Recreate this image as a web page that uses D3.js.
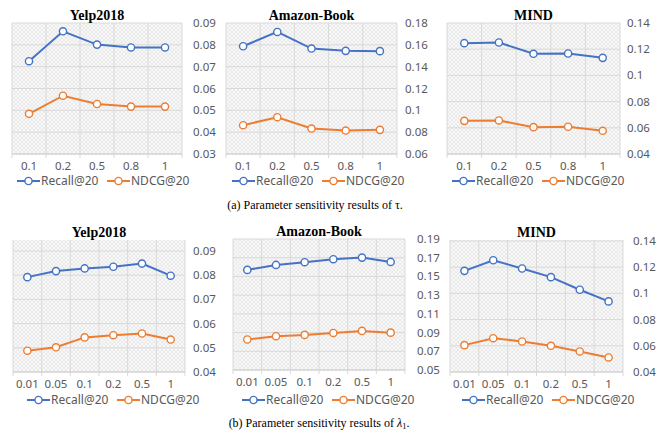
<!DOCTYPE html>
<html>
<head>
<meta charset="utf-8">
<script src="https://cdn.jsdelivr.net/npm/d3@7/dist/d3.min.js"></script>
<style>
  body { margin: 0; background: #fff; }
  svg { display: block; }
</style>
</head>
<body>
<svg id="chart" width="664" height="433"></svg>
<script>
// ---- data ----
const tauLabels = ['0.1', '0.2', '0.5', '0.8', '1']
const lambdaLabels = ['0.01', '0.05', '0.1', '0.2', '0.5', '1']

const yelpTauRecall = [0.0725, 0.0862, 0.0801, 0.0788, 0.0788]
const yelpTauNdcg = [0.0484, 0.0567, 0.0529, 0.0517, 0.0517]
const amazonTauRecall = [0.1587, 0.1718, 0.1566, 0.1545, 0.1542]
const amazonTauNdcg = [0.0864, 0.0937, 0.0833, 0.0815, 0.0821]
const mindTauRecall = [0.1246, 0.1251, 0.1165, 0.1167, 0.1134]
const mindTauNdcg = [0.0653, 0.0656, 0.0605, 0.0608, 0.0577]

const yelpLambdaRecall = [0.0792, 0.0817, 0.0828, 0.0835, 0.0848, 0.0798]
const yelpLambdaNdcg = [0.0488, 0.0502, 0.0543, 0.0552, 0.0559, 0.0534]
const amazonLambdaRecall = [0.1570, 0.1623, 0.1652, 0.1684, 0.1701, 0.1655]
const amazonLambdaNdcg = [0.0826, 0.0861, 0.0875, 0.0896, 0.0918, 0.0899]
const mindLambdaRecall = [0.1172, 0.1253, 0.1190, 0.1124, 0.1028, 0.0939]
const mindLambdaNdcg = [0.0605, 0.0658, 0.0633, 0.0600, 0.0557, 0.0511]

const yelpTauTicks = [0.03, 0.04, 0.05, 0.06, 0.07, 0.08, 0.09]
const amazonTauTicks = [0.06, 0.08, 0.1, 0.12, 0.14, 0.16, 0.18]
const mindTicks = [0.04, 0.06, 0.08, 0.1, 0.12, 0.14]
const yelpLambdaTicks = [0.04, 0.05, 0.06, 0.07, 0.08, 0.09]
const amazonLambdaTicks = [0.05, 0.07, 0.09, 0.11, 0.13, 0.15, 0.17, 0.19]

const seriesNames = ['Recall@20', 'NDCG@20']
const seriesColors = ['#4472C4', '#ED7D31']

// ---- layout ----
const panels = [
  { title: 'Yelp2018', cats: tauLabels, recall: yelpTauRecall, ndcg: yelpTauNdcg, ticks: yelpTauTicks,
    x0: 12, x1: 182, y0: 23, yTop: 23, y1: 154, axisX: 193, legX: 17, legY: 181 },
  { title: 'Amazon-Book', cats: tauLabels, recall: amazonTauRecall, ndcg: amazonTauNdcg, ticks: amazonTauTicks,
    x0: 226, x1: 397, y0: 23, yTop: 23, y1: 154, axisX: 405, legX: 232, legY: 181 },
  { title: 'MIND', cats: tauLabels, recall: mindTauRecall, ndcg: mindTauNdcg, ticks: mindTicks,
    x0: 447, x1: 620, y0: 23, yTop: 23, y1: 154, axisX: 627, legX: 452, legY: 181 },
  { title: 'Yelp2018', cats: lambdaLabels, recall: yelpLambdaRecall, ndcg: yelpLambdaNdcg, ticks: yelpLambdaTicks,
    x0: 13, x1: 185, y0: 240, yTop: 251, y1: 372, axisX: 193, legX: 27, legY: 400 },
  { title: 'Amazon-Book', cats: lambdaLabels, recall: amazonLambdaRecall, ndcg: amazonLambdaNdcg, ticks: amazonLambdaTicks,
    x0: 233, x1: 405, y0: 239, yTop: 239, y1: 370, axisX: 417, legX: 242, legY: 400 },
  { title: 'MIND', cats: lambdaLabels, recall: mindLambdaRecall, ndcg: mindLambdaNdcg, ticks: mindTicks,
    x0: 450, x1: 623, y0: 240, yTop: 241, y1: 372, axisX: 633, legX: 462, legY: 400 }
]

const svg = d3.select('#chart')
const sans = "'Noto Sans', 'DejaVu Sans', sans-serif"
const serif = "'Liberation Serif', 'Times New Roman', serif"

// crosshatch background
const defs = svg.append('defs')
const pat = defs.append('pattern')
  .attr('id', 'hatch')
  .attr('width', 4).attr('height', 4)
  .attr('patternUnits', 'userSpaceOnUse')
pat.append('rect').attr('width', 4).attr('height', 4).attr('fill', '#f8f8f8')
pat.append('path').attr('d', 'M0,0L4,4M4,0L0,4')
  .attr('stroke', '#e0e0e0').attr('stroke-width', 0.6)

panels.forEach(p => {
  const g = svg.append('g')
  const ext = d3.extent(p.ticks)

  const x = d3.scaleBand().domain(p.cats).range([p.x0, p.x1])
  const y = d3.scaleLinear().domain(ext).range([p.y1, p.yTop])

  // plot area
  g.append('rect')
    .attr('x', p.x0).attr('y', p.y0)
    .attr('width', p.x1 - p.x0).attr('height', p.y1 - p.y0)
    .attr('fill', 'url(#hatch)')

  // horizontal gridlines
  g.selectAll('line.hgrid').data(p.ticks).enter()
    .append('line')
    .attr('class', 'hgrid')
    .attr('x1', p.x0).attr('x2', p.x1)
    .attr('y1', d => y(d)).attr('y2', d => y(d))
    .attr('stroke', '#d9d9d9').attr('stroke-width', 1)

  // vertical gridlines at category boundaries
  const bounds = p.cats.map(c => x(c)).concat([p.x1])
  g.selectAll('line.vgrid').data(bounds).enter()
    .append('line')
    .attr('class', 'vgrid')
    .attr('x1', d => d).attr('x2', d => d)
    .attr('y1', p.y0).attr('y2', p.y1 + 4)
    .attr('stroke', '#d9d9d9').attr('stroke-width', 1)

  // x axis line
  g.append('line')
    .attr('x1', p.x0).attr('x2', p.x1)
    .attr('y1', p.y1).attr('y2', p.y1)
    .attr('stroke', '#d0d0d0').attr('stroke-width', 1)

  // x labels
  g.selectAll('text.xlab').data(p.cats).enter()
    .append('text')
    .attr('x', d => x(d) + x.bandwidth() / 2)
    .attr('y', p.y1 + 16)
    .attr('text-anchor', 'middle')
    .style('font-family', sans).style('font-size', '11.5px')
    .style('fill', '#595959')
    .text(d => d)

  // right axis labels
  g.selectAll('text.ylab').data(p.ticks).enter()
    .append('text')
    .attr('x', p.axisX)
    .attr('y', d => y(d))
    .attr('dy', '0.35em')
    .style('font-family', sans).style('font-size', '11.5px')
    .style('fill', '#595959')
    .text(d => d3.format('')(+d.toFixed(2)))

  // title
  g.append('text')
    .attr('x', (p.x0 + p.x1) / 2)
    .attr('y', p.y0 - 3.5)
    .attr('text-anchor', 'middle')
    .style('font-family', serif).style('font-weight', 'bold').style('font-size', '14px')
    .style('fill', '#000')
    .text(p.title)

  // series
  ;[p.recall, p.ndcg].forEach((vals, si) => {
    const pts = vals.map((v, i) => [x(p.cats[i]) + x.bandwidth() / 2, y(v)])
    g.append('path')
      .attr('d', d3.line()(pts))
      .attr('fill', 'none')
      .attr('stroke', seriesColors[si]).attr('stroke-width', 2)
    g.selectAll(null).data(pts).enter()
      .append('circle')
      .attr('cx', d => d[0]).attr('cy', d => d[1]).attr('r', 3.6)
      .attr('fill', '#fff')
      .attr('stroke', seriesColors[si]).attr('stroke-width', 1.4)
  })

  // legend
  const leg = g.append('g').attr('transform', `translate(${p.legX},${p.legY})`)
  seriesNames.forEach((name, si) => {
    const lx = si * 90
    leg.append('line')
      .attr('x1', lx).attr('x2', lx + 23)
      .attr('y1', 0).attr('y2', 0)
      .attr('stroke', seriesColors[si]).attr('stroke-width', 2)
    leg.append('circle')
      .attr('cx', lx + 11.5).attr('cy', 0).attr('r', 3.6)
      .attr('fill', '#fff')
      .attr('stroke', seriesColors[si]).attr('stroke-width', 1.4)
    leg.append('text')
      .attr('x', lx + 24).attr('y', 0).attr('dy', '0.35em')
      .style('font-family', sans).style('font-size', '12px')
      .style('fill', '#595959')
      .text(name)
  })
})

// captions
svg.append('text')
  .attr('x', 315).attr('y', 209)
  .attr('text-anchor', 'middle')
  .style('font-family', serif).style('font-size', '12px')
  .style('fill', '#000')
  .text('(a) Parameter sensitivity results of τ.')

const capB = svg.append('text')
  .attr('x', 319).attr('y', 427)
  .attr('text-anchor', 'middle')
  .style('font-family', serif).style('font-size', '12px')
  .style('fill', '#000')
capB.append('tspan').text('(b) Parameter sensitivity results of  ')
capB.append('tspan').style('font-style', 'italic').text('λ')
capB.append('tspan').attr('dy', 2).style('font-size', '8.5px').text('1')
capB.append('tspan').attr('dy', -2).text('.')
</script>
</body>
</html>
